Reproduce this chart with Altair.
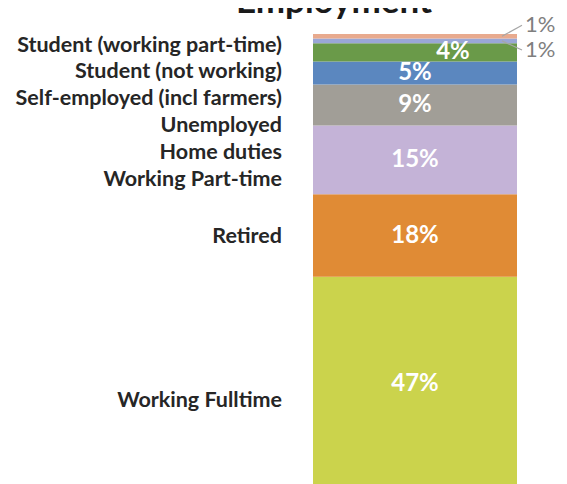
import altair as alt
import pandas as pd

# ---- data (bottom segment first) ----
categories = [
    "Working Fulltime",
    "Retired",
    "Working Part-time",
    "Home duties",
    "Unemployed",
    "Self-employed (incl farmers)",
    "Student (not working)",
    "Student (working part-time)",
]
values = [47, 18, 15, 9, 5, 4, 1, 1]
colors = ["#cbd34c", "#e08b35", "#c4b3d7", "#a19e97", "#5b87bf", "#6a9a49", "#9aa7d6", "#e8aa8e"]

# layout: where the category text sits on the % scale (text column of the slide)
label_y_layout = [19.9, 55.7, 68.1, 74.0, 79.9, 85.8, 91.6, 97.4]
# layout: where the two outside "1%" call-outs sit on the % scale
callout_y_layout = {"Student (working part-time)": 101.9, "Student (not working)": 96.5}

df = pd.DataFrame({"category": categories, "value": values, "color": colors})
df["order"] = range(len(df))
df["end"] = df["value"].cumsum()
df["start"] = df["end"] - df["value"]
df["mid"] = (df["start"] + df["end"]) / 2
df["pct"] = df["value"].astype(str) + "%"
df["label_y"] = label_y_layout
df["callout_y"] = df["category"].map(callout_y_layout)

W, H = 551, 476
yscale = alt.Scale(domain=[1.75, 105.68], nice=False, zero=False)
ynoaxis = dict(scale=yscale, axis=None)

base = alt.Chart(df)

bars = base.mark_bar(clip=True).encode(
    x=alt.value(305), x2=alt.value(509),
    y=alt.Y("start:Q", **ynoaxis), y2="end:Q",
    color=alt.Color("color:N", scale=None),
)

cat_labels = base.mark_text(
    align="right", baseline="middle", font="Lato", fontWeight="bold", fontSize=21.5, color="#262626"
).encode(
    x=alt.value(274), y=alt.Y("label_y:Q", **ynoaxis), text="category:N"
)

inside = base.transform_filter("datum.value >= 5").mark_text(
    align="center", baseline="middle", font="Lato", fontWeight="bold", fontSize=24, color="white"
).encode(x=alt.value(407), y=alt.Y("mid:Q", **ynoaxis), text="pct:N")

inside4 = base.transform_filter("datum.value == 4").mark_text(
    align="center", baseline="middle", font="Lato", fontWeight="bold", fontSize=24, color="white"
).encode(x=alt.value(445), y=alt.Y("mid:Q", **ynoaxis), text="pct:N")

small = base.transform_filter("datum.value < 4")

leaders = small.mark_rule(color="#a6a6a6", strokeWidth=1.2).encode(
    x=alt.value(494), x2=alt.value(514),
    y=alt.Y("mid:Q", **ynoaxis), y2="callout_y:Q",
)

callouts = small.mark_text(
    align="left", baseline="middle", font="Lato", fontSize=22, color="#7f7f7f"
).encode(x=alt.value(517), y=alt.Y("callout_y:Q", **ynoaxis), text="pct:N")

title = alt.Chart(pd.DataFrame({"t": ["Employment"]})).mark_text(
    align="center", baseline="alphabetic", font="Lato", fontWeight="bold", fontSize=35, color="#1a1a1a"
).encode(x=alt.value(326), y=alt.value(4.5), text="t:N")

chart = alt.layer(bars, cat_labels, inside, inside4, leaders, callouts, title).properties(
    width=W, height=H, padding=0, autosize=alt.AutoSizeParams(type="none")
).configure_view(stroke=None)

chart.save("out.html", embed_options={"renderer": "svg", "actions": False})
